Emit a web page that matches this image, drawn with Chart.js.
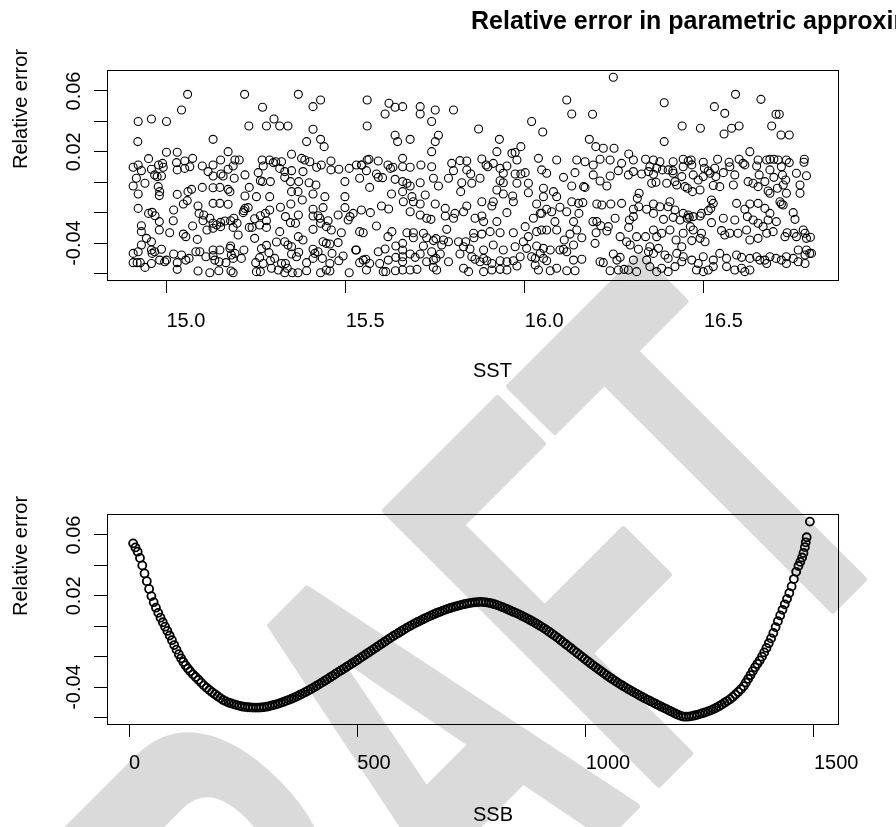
<!DOCTYPE html>
<html>
<head>
<meta charset="utf-8">
<script src="https://cdn.jsdelivr.net/npm/chart.js@4.4.1/dist/chart.umd.min.js"></script>
<style>
  html, body { margin: 0; padding: 0; background: #fff; }
  #page { position: relative; width: 896px; height: 827px; overflow: hidden; background: #fff; }
  #draft { position: absolute; left: 0; top: 0; }
  canvas { position: absolute; left: 0; }
  #chart-sst { top: 0; }
  #chart-ssb { top: 413px; }
</style>
</head>
<body>
<div id="page">
  <svg id="draft" width="896" height="827">
    <text transform="translate(158,1284) rotate(-45) scale(0.565,1)" font-family="Liberation Sans, Arial, sans-serif" font-weight="bold" font-size="560" fill="#dadada" stroke="#dadada" stroke-width="8" stroke-linejoin="round">DRAFT</text>
  </svg>
  <canvas id="chart-sst" width="896" height="413"></canvas>
  <canvas id="chart-ssb" width="896" height="414"></canvas>
</div>
<script>
// titles and tick labels
var mainTitle = "Relative error in parametric approximation";
var yTitle = "Relative error";
var sstTicks = [15.0, 15.5, 16.0, 16.5];
var sstTickLabels = ["15.0", "15.5", "16.0", "16.5"];
var ssbTicks = [0, 500, 1000, 1500];
var ssbTickLabels = ["0", "500", "1000", "1500"];
var errTicks = [-0.06, -0.04, -0.02, 0, 0.02, 0.04, 0.06];
var errTickLabels = ["", "-0.04", "", "", "0.02", "", "0.06"];

// axis limits (R style, 4% past the data)
var sstRange = [14.834, 16.874];
var ssbRange = [-48.2, 1552.6];
var errRange = [-0.0643, 0.0738];

// relative error against SST, [SST, error]
var errVsSst = [
  [15.059,0.0578],[15.218,0.0578],[15.368,0.0578],[15.430,0.0541],[15.409,0.0497],[15.560,0.0541],[15.621,0.0519],[15.610,0.0449],[15.638,0.0493],[15.042,0.0475],[15.268,0.0493],[14.921,0.0399],[14.958,0.0416],[15.000,0.0399],[15.300,0.0416],[15.230,0.0370],[15.279,0.0370],[15.316,0.0370],[15.339,0.0370],[15.409,0.0348],[15.560,0.0370],[14.920,0.0267],[15.130,0.0282],[15.391,0.0267],[15.430,0.0282],[15.440,0.0234],[15.638,0.0309],[15.645,0.0267],
  [15.000,0.0197],[15.030,0.0197],[15.172,0.0201],[14.950,0.0155],[14.989,0.0124],[15.028,0.0129],[15.051,0.0140],[15.073,0.0157],[15.151,0.0146],[15.191,0.0146],[15.203,0.0146],[15.267,0.0146],[15.288,0.0146],[15.305,0.0135],[15.321,0.0135],[15.349,0.0184],[15.377,0.0157],[15.386,0.0146],[15.400,0.0135],[15.459,0.0140],[15.560,0.0146],[15.565,0.0151],[15.591,0.0140],[15.544,0.0113],[15.618,0.0113],
  [14.907,0.0098],[14.921,0.0113],[14.930,0.0076],[14.958,0.0085],[14.978,0.0113],[14.991,0.0098],[15.051,0.0091],[15.065,0.0102],[15.100,0.0107],[15.116,0.0070],[15.130,0.0113],[15.152,0.0054],[15.172,0.0085],[15.186,0.0107],[15.256,0.0063],[15.270,0.0107],[15.298,0.0129],[15.316,0.0091],[15.330,0.0070],[15.349,0.0076],[15.381,0.0070],[15.419,0.0098],[15.432,0.0113],[15.459,0.0081],[15.481,0.0085],[15.510,0.0091],[15.530,0.0113],[15.545,0.0113],[15.558,0.0076],[15.586,0.0054],[15.625,0.0091],[15.632,0.0098],
  [14.916,0.0026],[14.940,-0.0007],[14.967,0.0048],[14.974,0.0037],[14.986,0.0041],[15.030,0.0081],[15.130,0.0041],[15.158,0.0041],[15.189,0.0026],[15.219,0.0048],[15.262,0.0010],[15.268,0.0004],[15.290,0.0004],[15.330,0.0032],[15.346,0.0004],[15.369,0.0004],[15.398,-0.0003],[15.417,-0.0018],[15.498,0.0004],[15.539,0.0026],[15.591,0.0032],[15.603,0.0030],[15.638,0.0019],
  [14.907,-0.0025],[14.921,-0.0077],[14.977,-0.0029],[14.981,-0.0062],[14.980,-0.0088],[15.030,-0.0080],[15.060,-0.0062],[15.070,-0.0047],[15.100,-0.0034],[15.130,-0.0036],[15.149,-0.0034],[15.172,-0.0047],[15.177,-0.0062],[15.219,-0.0091],[15.231,-0.0034],[15.251,-0.0095],[15.288,-0.0095],[15.349,-0.0062],[15.367,-0.0062],[15.409,-0.0077],[15.442,-0.0095],[15.498,-0.0095],[15.567,-0.0034],[15.628,-0.0077],
  [14.921,-0.0172],[15.020,-0.0183],[15.047,-0.0143],[15.058,-0.0121],[15.088,-0.0156],[15.130,-0.0139],[15.149,-0.0139],[15.172,-0.0145],[15.214,-0.0200],[15.219,-0.0172],[15.228,-0.0167],[15.288,-0.0183],[15.318,-0.0165],[15.347,-0.0143],[15.379,-0.0117],[15.409,-0.0178],[15.437,-0.0167],[15.498,-0.0167],[15.569,-0.0200],[15.600,-0.0156],[15.620,-0.0176],
  [14.950,-0.0205],[14.960,-0.0198],[14.968,-0.0220],[14.980,-0.0259],[15.019,-0.0253],[15.091,-0.0205],[15.104,-0.0216],[15.102,-0.0253],[15.121,-0.0237],[15.130,-0.0270],[15.140,-0.0281],[15.151,-0.0264],[15.163,-0.0255],[15.179,-0.0253],[15.188,-0.0237],[15.197,-0.0270],[15.216,-0.0187],[15.246,-0.0240],[15.262,-0.0220],[15.276,-0.0205],[15.279,-0.0253],[15.332,-0.0226],[15.368,-0.0216],[15.409,-0.0222],[15.423,-0.0220],[15.428,-0.0237],[15.451,-0.0253],[15.479,-0.0216],[15.507,-0.0248],[15.512,-0.0226],[15.521,-0.0205],[15.544,-0.0183],
  [14.930,-0.0286],[14.930,-0.0325],[14.980,-0.0314],[15.009,-0.0332],[15.047,-0.0341],[15.054,-0.0358],[15.073,-0.0288],[15.086,-0.0376],[15.113,-0.0314],[15.130,-0.0303],[15.151,-0.0292],[15.186,-0.0297],[15.200,-0.0347],[15.231,-0.0297],[15.239,-0.0297],[15.260,-0.0281],[15.279,-0.0297],[15.316,-0.0325],[15.346,-0.0266],[15.360,-0.0270],[15.368,-0.0358],[15.409,-0.0310],[15.430,-0.0270],[15.446,-0.0292],[15.460,-0.0314],[15.488,-0.0332],[15.539,-0.0325],[15.549,-0.0332],[15.586,-0.0288],[15.618,-0.0358],[15.629,-0.0325],
  [14.930,-0.0413],[14.944,-0.0369],[14.958,-0.0391],[14.958,-0.0446],[14.967,-0.0457],[14.986,-0.0441],[15.093,-0.0457],[15.130,-0.0446],[15.149,-0.0446],[15.177,-0.0435],[15.179,-0.0419],[15.246,-0.0369],[15.265,-0.0437],[15.279,-0.0415],[15.307,-0.0393],[15.330,-0.0391],[15.339,-0.0413],[15.349,-0.0424],[15.381,-0.0380],[15.409,-0.0441],[15.423,-0.0457],[15.437,-0.0391],[15.446,-0.0402],[15.456,-0.0406],[15.479,-0.0397],[15.530,-0.0446],[15.591,-0.0457],[15.610,-0.0439],[15.640,-0.0419],
  [14.907,-0.0468],[14.921,-0.0457],[14.907,-0.0529],[14.918,-0.0529],[14.927,-0.0529],[14.960,-0.0468],[14.981,-0.0512],[14.995,-0.0523],[15.000,-0.0512],[15.020,-0.0472],[15.030,-0.0529],[15.042,-0.0479],[15.054,-0.0512],[15.063,-0.0501],[15.082,-0.0457],[15.110,-0.0490],[15.130,-0.0483],[15.135,-0.0512],[15.147,-0.0523],[15.166,-0.0529],[15.181,-0.0479],[15.186,-0.0501],[15.191,-0.0468],[15.209,-0.0501],[15.216,-0.0446],[15.249,-0.0529],[15.260,-0.0496],[15.270,-0.0534],[15.286,-0.0463],[15.290,-0.0516],[15.302,-0.0501],[15.321,-0.0534],[15.332,-0.0534],[15.349,-0.0472],[15.363,-0.0490],[15.369,-0.0461],[15.391,-0.0529],[15.409,-0.0501],[15.414,-0.0468],[15.435,-0.0501],[15.456,-0.0534],[15.462,-0.0468],[15.481,-0.0516],[15.493,-0.0485],[15.528,-0.0446],[15.539,-0.0529],[15.549,-0.0512],[15.556,-0.0507],[15.567,-0.0534],[15.595,-0.0534],[15.619,-0.0512],[15.640,-0.0494],
  [14.940,-0.0560],[14.958,-0.0534],[15.030,-0.0573],[15.088,-0.0584],[15.121,-0.0595],[15.146,-0.0582],[15.180,-0.0584],[15.186,-0.0595],[15.251,-0.0588],[15.262,-0.0588],[15.293,-0.0566],[15.312,-0.0577],[15.330,-0.0595],[15.337,-0.0566],[15.351,-0.0595],[15.367,-0.0595],[15.391,-0.0582],[15.430,-0.0595],[15.446,-0.0577],[15.456,-0.0584],[15.510,-0.0595],[15.558,-0.0577],[15.605,-0.0588],[15.612,-0.0588],[15.639,-0.0582],
  [16.247,0.0690],[16.117,0.0541],[16.131,0.0449],[16.189,0.0447],[15.659,0.0497],[15.708,0.0497],[15.708,0.0449],[15.750,0.0475],[15.801,0.0475],[15.740,0.0399],[16.019,0.0399],[16.050,0.0330],[15.871,0.0350],[16.180,0.0282],[15.680,0.0282],[15.750,0.0267],[15.759,0.0309],[15.929,0.0282],
  [15.740,0.0201],[15.922,0.0201],[15.989,0.0234],[15.973,0.0195],[15.964,0.0190],[16.198,0.0234],[16.219,0.0223],[16.249,0.0223],[16.290,0.0186],
  [15.659,0.0157],[15.710,0.0113],[15.680,0.0098],[15.796,0.0124],[15.819,0.0142],[15.838,0.0140],[15.880,0.0153],[15.892,0.0113],[15.912,0.0124],[15.950,0.0107],[15.978,0.0146],[16.038,0.0157],[16.089,0.0146],[16.145,0.0146],[16.168,0.0135],[16.191,0.0113],[16.210,0.0151],[16.238,0.0146],[16.270,0.0124],[16.303,0.0146],[16.337,0.0151],
  [15.659,0.0102],[15.740,0.0102],[15.801,0.0076],[15.838,0.0081],[15.849,0.0054],[15.875,0.0026],[15.897,0.0102],[15.931,0.0091],[15.940,0.0059],[15.973,0.0054],[15.989,0.0054],[16.001,0.0063],[16.047,0.0081],[16.061,0.0059],[16.108,0.0032],[16.140,0.0063],[16.191,0.0048],[16.238,0.0041],[16.261,0.0076],[16.289,0.0048],[16.303,0.0070],[16.326,0.0054],[16.345,0.0070],
  [15.659,0.0004],[15.671,-0.0007],[15.708,-0.0003],[15.745,0.0026],[15.759,-0.0025],[15.787,0.0026],[15.824,-0.0003],[15.852,-0.0007],[15.931,0.0010],[15.940,-0.0003],[15.978,-0.0007],[16.010,-0.0007],[16.052,-0.0040],[16.131,-0.0025],[16.168,-0.0034],[16.210,0.0008],[16.229,-0.0025],
  [15.659,-0.0062],[15.680,-0.0025],[15.685,-0.0095],[15.722,-0.0084],[15.821,-0.0062],[15.922,-0.0051],[15.940,-0.0077],[15.966,-0.0091],[16.010,-0.0069],[16.052,-0.0095],[16.080,-0.0062],[16.089,-0.0095],[16.164,-0.0029],[16.319,-0.0073],[16.314,-0.0106],
  [15.661,-0.0128],[15.689,-0.0128],[15.708,-0.0143],[15.750,-0.0143],[15.778,-0.0172],[15.805,-0.0205],[15.838,-0.0156],[15.880,-0.0128],[15.908,-0.0156],[15.912,-0.0128],[15.968,-0.0128],[16.033,-0.0143],[16.061,-0.0178],[16.047,-0.0205],[16.075,-0.0194],[16.098,-0.0165],[16.131,-0.0128],[16.150,-0.0139],[16.162,-0.0134],[16.201,-0.0143],[16.215,-0.0150],[16.240,-0.0143],[16.270,-0.0139],[16.303,-0.0178],[16.318,-0.0161],[16.340,-0.0178],
  [15.680,-0.0194],[15.708,-0.0216],[15.726,-0.0237],[15.738,-0.0244],[15.778,-0.0222],[15.801,-0.0237],[15.829,-0.0194],[15.861,-0.0237],[15.880,-0.0222],[15.885,-0.0259],[15.922,-0.0259],[15.950,-0.0200],[16.024,-0.0237],[16.043,-0.0205],[16.084,-0.0259],[16.117,-0.0194],[16.136,-0.0259],[16.151,-0.0205],[16.190,-0.0259],[16.201,-0.0259],[16.212,-0.0286],[16.233,-0.0292],[16.252,-0.0237],[16.292,-0.0248],[16.303,-0.0226],
  [15.671,-0.0332],[15.689,-0.0332],[15.689,-0.0365],[15.717,-0.0336],[15.726,-0.0365],[15.745,-0.0384],[15.752,-0.0371],[15.773,-0.0380],[15.782,-0.0310],[15.815,-0.0391],[15.835,-0.0391],[15.857,-0.0336],[15.858,-0.0365],[15.880,-0.0341],[15.903,-0.0325],[15.931,-0.0332],[15.968,-0.0332],[16.001,-0.0292],[16.010,-0.0358],[16.033,-0.0325],[16.047,-0.0314],[16.061,-0.0314],[16.089,-0.0314],[16.110,-0.0380],[16.126,-0.0341],[16.145,-0.0314],[16.159,-0.0365],[16.199,-0.0332],[16.229,-0.0321],[16.266,-0.0358],[16.284,-0.0391],[16.290,-0.0297],[16.312,-0.0358],[16.337,-0.0358],
  [15.659,-0.0402],[15.659,-0.0446],[15.680,-0.0472],[15.717,-0.0419],[15.740,-0.0457],[15.768,-0.0413],[15.787,-0.0391],[15.829,-0.0424],[15.847,-0.0439],[15.885,-0.0446],[15.912,-0.0413],[15.940,-0.0446],[15.973,-0.0424],[15.996,-0.0391],[16.005,-0.0435],[16.033,-0.0419],[16.052,-0.0435],[16.071,-0.0446],[16.108,-0.0441],[16.136,-0.0413],[16.196,-0.0402],[16.247,-0.0472],[16.294,-0.0413],[16.317,-0.0441],[16.345,-0.0457],
  [15.659,-0.0490],[15.659,-0.0523],[15.694,-0.0494],[15.708,-0.0472],[15.726,-0.0523],[15.745,-0.0512],[15.752,-0.0501],[15.764,-0.0472],[15.787,-0.0523],[15.819,-0.0472],[15.852,-0.0490],[15.861,-0.0507],[15.875,-0.0523],[15.885,-0.0501],[15.894,-0.0516],[15.908,-0.0534],[15.931,-0.0516],[15.950,-0.0523],[15.968,-0.0516],[15.987,-0.0490],[16.019,-0.0490],[16.029,-0.0501],[16.043,-0.0468],[16.052,-0.0501],[16.061,-0.0516],[16.098,-0.0446],[16.117,-0.0457],[16.136,-0.0512],[16.159,-0.0507],[16.210,-0.0523],[16.219,-0.0529],[16.257,-0.0512],[16.266,-0.0494],[16.303,-0.0512],[16.340,-0.0512],
  [15.659,-0.0577],[15.680,-0.0577],[15.699,-0.0573],[15.745,-0.0560],[15.754,-0.0577],[15.829,-0.0566],[15.843,-0.0588],[15.885,-0.0588],[15.908,-0.0577],[15.931,-0.0573],[15.950,-0.0577],[15.978,-0.0551],[16.029,-0.0544],[16.038,-0.0577],[16.071,-0.0582],[16.089,-0.0566],[16.117,-0.0582],[16.140,-0.0582],[16.238,-0.0582],[16.261,-0.0577],[16.277,-0.0573],[16.289,-0.0577],[16.312,-0.0588],
  [16.588,0.0578],[16.389,0.0523],[16.659,0.0545],[16.529,0.0497],[16.558,0.0453],[16.701,0.0447],[16.710,0.0447],[16.439,0.0370],[16.490,0.0355],[16.598,0.0370],[16.577,0.0355],[16.556,0.0317],[16.689,0.0370],[16.715,0.0311],[16.738,0.0311],[16.389,0.0267],[16.628,0.0201],
  [16.359,0.0146],[16.377,0.0135],[16.414,0.0135],[16.442,0.0151],[16.456,0.0140],[16.464,0.0146],[16.498,0.0131],[16.538,0.0151],[16.570,0.0131],[16.598,0.0151],[16.609,0.0124],[16.651,0.0146],[16.675,0.0146],[16.684,0.0151],[16.695,0.0151],[16.707,0.0146],[16.730,0.0146],[16.779,0.0131],[16.780,0.0151],
  [16.349,0.0102],[16.368,0.0092],[16.384,0.0081],[16.400,0.0081],[16.413,0.0076],[16.442,0.0102],[16.466,0.0114],[16.501,0.0092],[16.512,0.0074],[16.530,0.0092],[16.572,0.0102],[16.614,0.0114],[16.647,0.0107],[16.684,0.0081],[16.716,0.0102],[16.738,0.0129],
  [16.359,0.0052],[16.414,0.0059],[16.438,0.0037],[16.470,0.0048],[16.484,0.0015],[16.498,0.0037],[16.517,0.0059],[16.533,0.0037],[16.554,0.0063],[16.586,0.0048],[16.623,0.0004],[16.637,-0.0007],[16.654,0.0048],[16.670,0.0004],[16.695,0.0032],[16.719,0.0048],[16.728,0.0015],[16.758,0.0059],[16.786,0.0043],
  [16.354,-0.0007],[16.366,0.0000],[16.396,-0.0007],[16.419,0.0004],[16.424,-0.0018],[16.447,-0.0029],[16.454,-0.0040],[16.468,-0.0062],[16.489,-0.0051],[16.526,-0.0022],[16.544,-0.0029],[16.582,-0.0018],[16.651,-0.0029],[16.679,-0.0058],[16.684,-0.0073],[16.705,-0.0040],[16.721,-0.0018],[16.730,-0.0073],[16.768,-0.0018],[16.768,-0.0073],
  [16.359,-0.0143],[16.377,-0.0161],[16.405,-0.0128],[16.400,-0.0161],[16.419,-0.0183],[16.442,-0.0205],[16.456,-0.0216],[16.459,-0.0231],[16.470,-0.0226],[16.489,-0.0222],[16.512,-0.0187],[16.521,-0.0117],[16.526,-0.0139],[16.519,-0.0172],[16.591,-0.0139],[16.614,-0.0178],[16.628,-0.0143],[16.651,-0.0139],[16.670,-0.0172],[16.684,-0.0205],[16.712,-0.0128],[16.716,-0.0143],[16.721,-0.0150],[16.749,-0.0200],
  [16.359,-0.0205],[16.387,-0.0244],[16.414,-0.0231],[16.433,-0.0248],[16.453,-0.0237],[16.462,-0.0292],[16.493,-0.0205],[16.521,-0.0266],[16.554,-0.0237],[16.586,-0.0248],[16.621,-0.0226],[16.637,-0.0248],[16.651,-0.0270],[16.665,-0.0292],[16.679,-0.0248],[16.702,-0.0259],[16.754,-0.0244],
  [16.359,-0.0314],[16.368,-0.0358],[16.382,-0.0336],[16.405,-0.0314],[16.422,-0.0380],[16.442,-0.0336],[16.466,-0.0384],[16.470,-0.0314],[16.493,-0.0336],[16.489,-0.0369],[16.503,-0.0391],[16.549,-0.0318],[16.558,-0.0347],[16.572,-0.0336],[16.595,-0.0336],[16.619,-0.0314],[16.628,-0.0380],[16.651,-0.0369],[16.675,-0.0336],[16.693,-0.0325],[16.726,-0.0358],[16.732,-0.0332],[16.751,-0.0336],[16.758,-0.0358],[16.777,-0.0314],[16.782,-0.0336],[16.786,-0.0369],[16.797,-0.0362],[16.795,-0.0468],
  [16.349,-0.0424],[16.359,-0.0468],[16.373,-0.0435],[16.391,-0.0479],[16.400,-0.0501],[16.424,-0.0468],[16.438,-0.0424],[16.442,-0.0490],[16.466,-0.0512],[16.484,-0.0534],[16.498,-0.0490],[16.526,-0.0512],[16.544,-0.0468],[16.563,-0.0501],[16.591,-0.0479],[16.605,-0.0494],[16.628,-0.0501],[16.647,-0.0490],[16.656,-0.0512],[16.670,-0.0512],[16.684,-0.0490],[16.701,-0.0501],[16.716,-0.0512],[16.730,-0.0490],[16.749,-0.0501],[16.763,-0.0446],[16.782,-0.0479],[16.786,-0.0446],[16.800,-0.0468],
  [16.349,-0.0555],[16.368,-0.0588],[16.382,-0.0566],[16.400,-0.0588],[16.419,-0.0555],[16.438,-0.0523],[16.479,-0.0577],[16.498,-0.0588],[16.512,-0.0577],[16.526,-0.0555],[16.563,-0.0555],[16.586,-0.0577],[16.605,-0.0566],[16.614,-0.0588],[16.628,-0.0577],[16.675,-0.0534],[16.730,-0.0534],[16.763,-0.0523],[16.782,-0.0534]
];

// relative error against SSB, [SSB, error]
var errVsSsb = [
  [9,0.0545],[14,0.0518],[19,0.0490],[24,0.0449],[29,0.0400],[34,0.0347],[39,0.0296],[44,0.0245],[49,0.0198],[54,0.0158],[59,0.0122],[64,0.0088],[69,0.0056],[74,0.0026],[79,-0.0003],[84,-0.0031],[89,-0.0061],[94,-0.0092],[99,-0.0124],[104,-0.0154],[109,-0.0184],[114,-0.0211],[119,-0.0235],[124,-0.0258],
  [129,-0.0278],[134,-0.0296],[140,-0.0316],[146,-0.0334],[152,-0.0352],[158,-0.0371],[164,-0.0389],[170,-0.0405],[176,-0.0420],[182,-0.0434],[188,-0.0447],[194,-0.0460],[200,-0.0473],[206,-0.0485],[212,-0.0494],[218,-0.0502],[224,-0.0508],[230,-0.0514],[236,-0.0519],[242,-0.0524],[248,-0.0528],[254,-0.0531],[260,-0.0533],[266,-0.0534],[272,-0.0535],[278,-0.0535],[284,-0.0535],[290,-0.0534],
  [296,-0.0532],[302,-0.0529],[308,-0.0525],[314,-0.0520],[320,-0.0515],[326,-0.0510],[332,-0.0504],[338,-0.0498],[344,-0.0491],[350,-0.0484],[356,-0.0477],[362,-0.0469],[368,-0.0461],[374,-0.0452],[380,-0.0443],[386,-0.0434],[392,-0.0424],[398,-0.0414],[404,-0.0404],[410,-0.0393],[416,-0.0382],[422,-0.0371],[428,-0.0360],[434,-0.0349],[440,-0.0337],[446,-0.0326],[452,-0.0314],[458,-0.0302],[464,-0.0291],[470,-0.0280],[476,-0.0268],[482,-0.0257],[488,-0.0245],[494,-0.0234],[500,-0.0222],[506,-0.0210],[512,-0.0198],[518,-0.0186],[524,-0.0174],[530,-0.0162],
  [536,-0.0150],[542,-0.0138],[548,-0.0126],[554,-0.0114],[560,-0.0102],[566,-0.0090],[572,-0.0078],[578,-0.0066],[584,-0.0055],[590,-0.0044],[596,-0.0033],[602,-0.0022],[608,-0.0011],[614,-0.0001],[620,0.0009],[626,0.0019],[632,0.0028],[638,0.0037],[644,0.0046],[650,0.0055],[656,0.0063],[662,0.0071],[668,0.0079],[674,0.0087],[680,0.0094],[686,0.0101],[692,0.0108],[698,0.0114],[704,0.0120],[710,0.0126],[716,0.0131],[722,0.0136],[728,0.0141],[734,0.0145],[740,0.0149],[746,0.0152],[752,0.0155],[758,0.0157],[764,0.0159],
  [770,0.0160],[776,0.0159],[782,0.0157],[788,0.0154],[794,0.0150],[800,0.0145],[806,0.0139],[812,0.0132],[818,0.0125],[824,0.0118],[830,0.0110],[836,0.0102],[842,0.0094],[848,0.0086],[854,0.0078],[860,0.0069],[866,0.0060],[872,0.0051],[878,0.0041],[884,0.0031],[890,0.0021],[896,0.0010],[902,-0.0001],[908,-0.0012],[914,-0.0024],[920,-0.0036],[926,-0.0049],[932,-0.0062],[938,-0.0075],[944,-0.0089],[950,-0.0103],[956,-0.0117],[962,-0.0131],[968,-0.0145],[974,-0.0159],[980,-0.0173],[986,-0.0187],[992,-0.0201],[998,-0.0215],
  [1004,-0.0229],[1010,-0.0243],[1016,-0.0257],[1022,-0.0270],[1028,-0.0283],[1034,-0.0296],[1040,-0.0309],[1046,-0.0322],[1052,-0.0335],[1058,-0.0347],[1064,-0.0359],[1070,-0.0371],[1076,-0.0382],[1082,-0.0393],[1088,-0.0404],[1094,-0.0415],[1100,-0.0425],[1106,-0.0435],[1112,-0.0445],[1118,-0.0455],[1124,-0.0465],[1130,-0.0475],[1136,-0.0484],[1142,-0.0493],[1148,-0.0502],[1154,-0.0511],[1160,-0.0520],[1166,-0.0529],[1172,-0.0538],[1178,-0.0547],[1184,-0.0556],[1190,-0.0565],[1196,-0.0574],[1202,-0.0582],[1208,-0.0589],[1214,-0.0594],
  [1220,-0.0595],[1226,-0.0594],[1232,-0.0591],[1238,-0.0587],[1244,-0.0583],[1250,-0.0578],[1256,-0.0572],[1262,-0.0566],[1268,-0.0560],[1274,-0.0553],[1280,-0.0545],[1286,-0.0536],[1292,-0.0526],[1298,-0.0515],[1304,-0.0503],[1310,-0.0492],[1316,-0.0480],[1322,-0.0465],[1328,-0.0449],[1334,-0.0432],[1340,-0.0414],[1346,-0.0394],
  [1351,-0.0370],[1356,-0.0346],[1361,-0.0321],[1366,-0.0295],[1371,-0.0270],[1376,-0.0247],[1381,-0.0225],[1386,-0.0200],[1391,-0.0172],[1396,-0.0143],[1401,-0.0112],[1406,-0.0080],[1411,-0.0044],[1416,-0.0006],[1421,0.0033],[1426,0.0071],[1431,0.0108],[1436,0.0144],[1441,0.0180],[1446,0.0218],[1451,0.0262],[1456,0.0310],[1461,0.0358],[1466,0.0396],[1470,0.0423],[1474,0.0452],[1477,0.0482],[1480,0.0520],[1482,0.0552],[1484,0.0585],[1491,0.0688]
];

var FONT = "'Liberation Sans', Arial, Helvetica, sans-serif";

// box round the plot region plus the R-style titles
var framePlugin = {
    id: "frame",
    afterDraw: function(chart, args, opts) {
        var ctx = chart.ctx;
        var a = chart.chartArea;
        var cx = (a.left + a.right) / 2;
        var cy = (a.top + a.bottom) / 2;
        ctx.save();
        ctx.strokeStyle = "#000";
        ctx.lineWidth = 1;
        ctx.strokeRect(Math.round(a.left) + 0.5, Math.round(a.top) + 0.5, Math.round(a.right - a.left), Math.round(a.bottom - a.top));
        ctx.fillStyle = "#000";
        ctx.textAlign = "left";
        ctx.textBaseline = "middle";
        if (opts.title) {
            ctx.font = "bold 25px " + FONT;
            ctx.fillText(opts.title, cx - 1.5, opts.titleY);
        }
        ctx.font = "20px " + FONT;
        ctx.fillText(opts.xTitle, cx + 0.5, a.bottom + opts.xTitleGap);
        ctx.translate(opts.yTitleX, cy + opts.yTitleShift);
        ctx.rotate(-Math.PI / 2);
        ctx.fillText(opts.yTitle, 0, 0);
        ctx.restore();
    }
};

function makeScatter(id, pairs, xRange, xTicks, xTickLabels, frame, padTop, xAxisHeight, xLabelPad, ringWidth) {
    var canvas = document.getElementById(id);
    if (!canvas) return null;

    return new Chart(canvas.getContext("2d"), {
        type: "scatter",
        data: {
            datasets: [{
                data: pairs.map(function(p) { return { x: p[0], y: p[1] }; }),
                pointStyle: "circle",
                pointRadius: 4,
                pointHoverRadius: 4,
                borderWidth: ringWidth,
                borderColor: "#000",
                backgroundColor: "rgba(0,0,0,0)"
            }]
        },
        options: {
            responsive: false,
            animation: false,
            events: [],
            layout: { padding: { top: padTop, right: 58, bottom: 0, left: 0 } },
            plugins: {
                legend: { display: false },
                tooltip: { enabled: false },
                frame: frame
            },
            scales: {
                x: {
                    type: "linear",
                    position: "bottom",
                    min: xRange[0],
                    max: xRange[1],
                    afterBuildTicks: function(s) { s.ticks = xTicks.map(function(v) { return { value: v }; }); },
                    afterFit: function(s) { s.height = xAxisHeight; },
                    border: { display: false },
                    grid: { display: true, drawOnChartArea: false, drawTicks: true, tickLength: 13, color: "#000", lineWidth: 1 },
                    ticks: {
                        align: "start",
                        padding: xLabelPad,
                        color: "#000",
                        autoSkip: false,
                        minRotation: 0,
                        maxRotation: 0,
                        font: { family: FONT, size: 20 },
                        callback: function(v, i) { return xTickLabels[i]; }
                    }
                },
                y: {
                    type: "linear",
                    position: "left",
                    min: errRange[0],
                    max: errRange[1],
                    afterBuildTicks: function(s) { s.ticks = errTicks.map(function(v) { return { value: v }; }); },
                    afterFit: function(s) { s.width = 107; },
                    border: { display: false },
                    grid: { display: true, drawOnChartArea: false, drawTicks: true, tickLength: 13, color: "#000", lineWidth: 1 },
                    ticks: {
                        minRotation: 90,
                        maxRotation: 90,
                        crossAlign: "center",
                        padding: -3,
                        color: "#000",
                        autoSkip: false,
                        font: { family: FONT, size: 20 },
                        callback: function(v, i) { return errTickLabels[i]; }
                    }
                }
            }
        },
        plugins: [framePlugin]
    });
}

document.addEventListener("DOMContentLoaded", function() {
    // 1. upper panel: error against SST
    makeScatter("chart-sst", errVsSst, sstRange, sstTicks, sstTickLabels,
        { title: mainTitle, titleY: 22, xTitle: "SST", xTitleGap: 91, yTitle: yTitle, yTitleX: 21, yTitleShift: -6 },
        70, 133, 16, 1.1);

    // 2. lower panel: error against SSB
    makeScatter("chart-ssb", errVsSsb, ssbRange, ssbTicks, ssbTickLabels,
        { title: null, titleY: 0, xTitle: "SSB", xTitleGap: 91, yTitle: yTitle, yTitleX: 21, yTitleShift: -3 },
        101, 103, 14, 1.8);
});
</script>
</body>
</html>
